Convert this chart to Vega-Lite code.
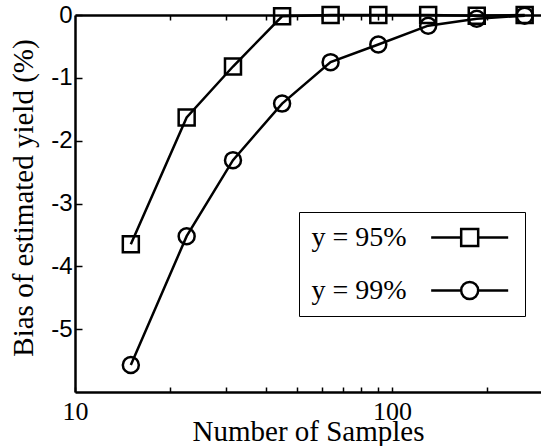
{
  "$schema": "https://vega.github.io/schema/vega-lite/v6.json",
  "width": 466,
  "height": 377,
  "autosize": {"type": "none"},
  "padding": {"left": 75, "top": 15, "right": 0, "bottom": 54},
  "background": "white",
  "config": {"view": {"stroke": null}, "font": "Liberation Serif"},
  "data": {"values": [
    {"series": "y = 95%", "n": 15, "bias": -3.65},
    {"series": "y = 95%", "n": 22.5, "bias": -1.63},
    {"series": "y = 95%", "n": 31.5, "bias": -0.82},
    {"series": "y = 95%", "n": 45, "bias": -0.02},
    {"series": "y = 95%", "n": 64, "bias": 0},
    {"series": "y = 95%", "n": 90.5, "bias": 0},
    {"series": "y = 95%", "n": 130, "bias": 0},
    {"series": "y = 95%", "n": 185, "bias": -0.01},
    {"series": "y = 95%", "n": 262, "bias": 0},
    {"series": "y = 99%", "n": 15, "bias": -5.57},
    {"series": "y = 99%", "n": 22.5, "bias": -3.52},
    {"series": "y = 99%", "n": 31.5, "bias": -2.31},
    {"series": "y = 99%", "n": 45, "bias": -1.41},
    {"series": "y = 99%", "n": 64, "bias": -0.75},
    {"series": "y = 99%", "n": 90.5, "bias": -0.47},
    {"series": "y = 99%", "n": 130, "bias": -0.17},
    {"series": "y = 99%", "n": 185, "bias": -0.06},
    {"series": "y = 99%", "n": 262, "bias": -0.01}
  ]},
  "encoding": {
    "y": {
      "field": "bias", "type": "quantitative",
      "scale": {"domain": [-6, 0], "nice": false, "zero": false},
      "axis": {
        "values": [0, -1, -2, -3, -4, -5],
        "labelExpr": "'' + datum.value",
        "labelFont": "Liberation Sans", "labelFontSize": 24, "labelColor": "black",
        "labelPadding": 10,
        "tickSize": -7, "tickWidth": 1.5, "tickColor": "black",
        "domainColor": "black", "domainWidth": 2.5,
        "grid": false,
        "title": "Bias of estimated yield (%)",
        "titleFont": "Liberation Serif", "titleFontSize": 29, "titleFontWeight": "normal", "titleColor": "black",
        "titleX": -52, "titleY": 182.5, "titleBaseline": "middle", "titleAlign": "center", "titleAngle": -90
      }
    }
  },
  "layer": [
    {
      "mark": {"type": "line", "color": "black", "strokeWidth": 2.5, "clip": false},
      "encoding": {
        "x": {
          "field": "n", "type": "quantitative",
          "scale": {"type": "log", "domain": [10, 295], "nice": false},
          "axis": {
            "orient": "bottom",
            "values": [10, 20, 30, 40, 50, 60, 70, 80, 90, 100, 200],
            "labelExpr": "(datum.value == 10 || datum.value == 100) ? ('' + datum.value) : ''",
            "labelFont": "Liberation Serif", "labelFontSize": 26, "labelColor": "black",
            "labelPadding": 11, "labelFlush": false, "labelOverlap": false,
            "tickSize": -5, "tickWidth": 1.5, "tickColor": "black",
            "domainColor": "black", "domainWidth": 2.5,
            "grid": false,
            "title": "Number of Samples",
            "titleFont": "Liberation Serif", "titleFontSize": 29, "titleFontWeight": "normal", "titleColor": "black",
            "titleBaseline": "alphabetic", "titleY": 48, "titleX": 233, "titleAlign": "center"
          }
        },
        "detail": {"field": "series"}
      }
    },
    {
      "mark": {"type": "point", "filled": false, "color": "black", "strokeWidth": 2.5, "size": 256, "opacity": 1, "clip": false},
      "encoding": {
        "x": {"field": "n", "type": "quantitative", "axis": null},
        "shape": {"field": "series", "type": "nominal", "scale": {"range": ["square", "circle"]}, "legend": null}
      }
    },
    {
      "mark": {"type": "point", "filled": false, "color": "black", "strokeWidth": 2.5, "size": 289, "opacity": 0},
      "encoding": {
        "x": {
          "field": "n", "type": "quantitative",
          "axis": {
            "orient": "top",
            "values": [20, 30, 40, 50, 60, 70, 80, 90, 100, 200],
            "labels": false,
            "tickSize": -5, "tickWidth": 1.5, "tickColor": "black",
            "domainColor": "black", "domainWidth": 2.5,
            "grid": false, "title": null
          }
        },
        "shape": {
          "field": "series", "type": "nominal",
          "scale": {"range": ["M12.55,0H16.08M18.08,0H21.61M16.08,-1H18.08V1H16.08Z", "M12.55,0H16.08M18.08,0H21.61M16.08,0A1,1,0,1,1,18.08,0A1,1,0,1,1,16.08,0Z"]},
          "legend": {
            "orient": "none", "legendX": 224, "legendY": 197,
            "direction": "vertical",
            "title": null,
            "strokeColor": "black",
            "padding": 11.5,
            "rowPadding": 25,
            "symbolSize": 289, "symbolStrokeWidth": 2.5, "symbolStrokeColor": "black",
            "symbolFillColor": "transparent", "symbolOpacity": 1,
            "symbolOffset": 0,
            "labelOffset": -27,
            "labelFont": "Liberation Serif", "labelFontSize": 28, "labelColor": "black",
            "labelLimit": 300
          }
        }
      }
    }
  ],
  "resolve": {"scale": {"shape": "independent"}, "axis": {"x": "independent"}}
}
